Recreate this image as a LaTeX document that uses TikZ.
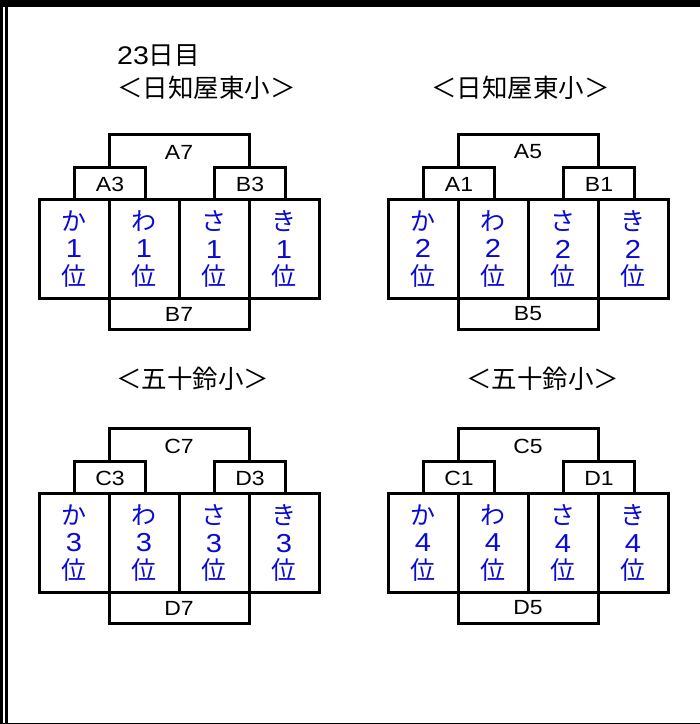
\documentclass[tikz,border=0pt]{standalone}
\usepackage{fontspec}
\setmainfont{Liberation Sans}
\newfontfamily\jpfont{Noto Sans CJK JP}
\newfontfamily\widefont[FakeStretch=1.12]{Liberation Sans}
\definecolor{cellblue}{RGB}{10,10,210}
\tikzset{
  frameline/.style={draw=black, line width=3pt},
  lbl/.style={inner sep=0pt, font=\widefont\fontsize{20.5}{22}\selectfont},
  celltxt/.style={inner sep=0pt, align=center, text=cellblue, font=\jpfont\fontsize{25}{27.5}\selectfont},
  ttl/.style={inner sep=0pt, anchor=west, font=\fontsize{25.5}{27}\selectfont},
}
\newcommand\dg[1]{{\widefont\fontsize{26}{27.5}\selectfont #1}}
\newcommand\myblock[8]{%
  \draw[frameline] (#1+70,#2) rectangle (#1+210,#2+65);
  \node[lbl] (#3top) at (#1+140,#2+18) {#4};
  \draw[frameline,fill=white] (#1+35,#2+33) rectangle (#1+106,#2+65);
  \node[lbl] (#3l) at (#1+71,#2+50) {#5};
  \draw[frameline,fill=white] (#1+175,#2+33) rectangle (#1+246,#2+65);
  \node[lbl] (#3r) at (#1+211,#2+50) {#6};
  \draw[frameline] (#1,#2+65) rectangle (#1+70,#2+164);
  \draw[frameline] (#1+70,#2+65) rectangle (#1+140,#2+164);
  \draw[frameline] (#1+140,#2+65) rectangle (#1+210,#2+164);
  \draw[frameline] (#1+210,#2+65) rectangle (#1+280,#2+164);
  \node[celltxt] (#3c1) at (#1+35,#2+115) {か\\\dg{#8}\\位};
  \node[celltxt] (#3c2) at (#1+105,#2+115) {わ\\\dg{#8}\\位};
  \node[celltxt] (#3c3) at (#1+175,#2+115) {さ\\\dg{#8}\\位};
  \node[celltxt] (#3c4) at (#1+245,#2+115) {き\\\dg{#8}\\位};
  \draw[frameline] (#1+70,#2+164) rectangle (#1+210,#2+195);
  \node[lbl] (#3bot) at (#1+140,#2+180) {#7};
}
\begin{document}
\begin{tikzpicture}[x=1pt,y=-1pt]
\useasboundingbox (0,0) rectangle (700,724);
% frame
\fill[black] (0,0) rectangle (700,7);
\fill[black] (0,0) rectangle (3.3,724);
\fill[black] (4.7,0) rectangle (8.2,724);
\draw[black, line width=1.2pt] (0,723.2) -- (700,723.2);
% titles
\node[ttl] (day) at (117,56) {{\widefont 23}{\jpfont 日目}};
\node[ttl] (t1) at (117,88) {\jpfont ＜日知屋東小＞};
\node[ttl] (t2) at (431,88) {\jpfont ＜日知屋東小＞};
\node[ttl] (t3) at (116,379) {\jpfont ＜五十鈴小＞};
\node[ttl] (t4) at (466,379) {\jpfont ＜五十鈴小＞};
% blocks
\myblock{39}{134}{ul}{A7}{A3}{B3}{B7}{1}
\myblock{388}{134}{ur}{A5}{A1}{B1}{B5}{2}
\myblock{39}{428}{ll}{C7}{C3}{D3}{D7}{3}
\myblock{388}{428}{lr}{C5}{C1}{D1}{D5}{4}
\end{tikzpicture}
\end{document}
